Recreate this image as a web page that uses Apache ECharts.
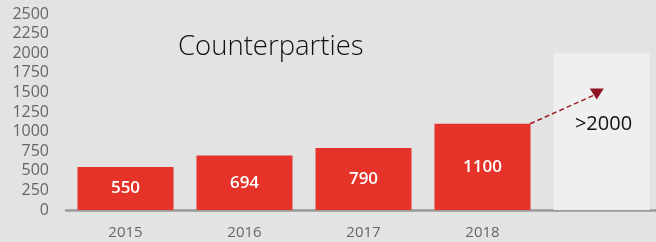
<!DOCTYPE html>
<html><head><meta charset="utf-8">
<script src="https://cdn.jsdelivr.net/npm/echarts@6/dist/echarts.min.js"></script>
<style>html,body{margin:0;padding:0;background:#e3e3e3;}#c{width:656px;height:242px;}</style>
</head><body><div id="c"></div>
<script>
var categories = ['2015', '2016', '2017', '2018', ''];
var values = [550, 694, 790, 1100];
var targetValue = 2000;
var targetLabel = '>2000';
var yTicks = [0, 250, 500, 750, 1000, 1250, 1500, 1750, 2000, 2250, 2500];
var arrowFrom = [3.9, 1100];
var arrowTo = [4.46, 1480];

var chart = echarts.init(document.getElementById('c'));
var barData = values.map(function (v) { return v; });
barData.push({
  value: targetValue,
  itemStyle: { color: '#efefef' },
  label: { show: true, color: '#111', fontFamily: 'Open Sans', fontWeight: 400, fontSize: 20, formatter: targetLabel, position: 'inside', offset: [2, -7] }
});
chart.setOption({
  backgroundColor: '#e3e3e3',
  animation: false,
  title: {
    text: 'Counterparties', left: 173, top: 28,
    textStyle: { fontFamily: 'Open Sans', fontWeight: 300, fontSize: 27.5, color: '#111' }
  },
  grid: { left: 66, top: 14, width: 595, height: 196, outerBoundsMode: 'none', containLabel: false },
  xAxis: [{
    type: 'category', data: categories,
    axisLine: { lineStyle: { color: '#9a9a9a', width: 2.5 } },
    axisTick: { show: false },
    axisLabel: { color: '#666', fontFamily: 'Open Sans', fontSize: 15, margin: 15 }
  }, {
    type: 'value', min: 0, max: 5, show: false
  }],
  yAxis: {
    type: 'value', min: yTicks[0], max: yTicks[yTicks.length - 1], interval: yTicks[1] - yTicks[0],
    splitLine: { show: false },
    axisLine: { show: false }, axisTick: { show: false },
    axisLabel: { color: '#666', fontFamily: 'Open Sans', fontSize: 16, margin: 17, formatter: function (v) { return String(v); } }
  },
  series: [{
    type: 'bar', data: barData, barWidth: 96,
    itemStyle: { color: '#e5332a' },
    label: { show: true, position: 'inside', color: '#fff', fontFamily: 'Open Sans', fontWeight: 600, fontSize: 17 }
  }, {
    type: 'line', xAxisIndex: 1,
    data: [
      { value: arrowFrom, symbol: 'none' },
      { value: arrowTo, symbol: 'triangle', symbolSize: [14, 11], symbolRotate: 180 }
    ],
    showSymbol: true,
    lineStyle: { color: '#9b1b22', width: 1.5, type: [5, 3] },
    itemStyle: { color: '#8e1520' },
    silent: true
  }]
});
</script></body></html>
